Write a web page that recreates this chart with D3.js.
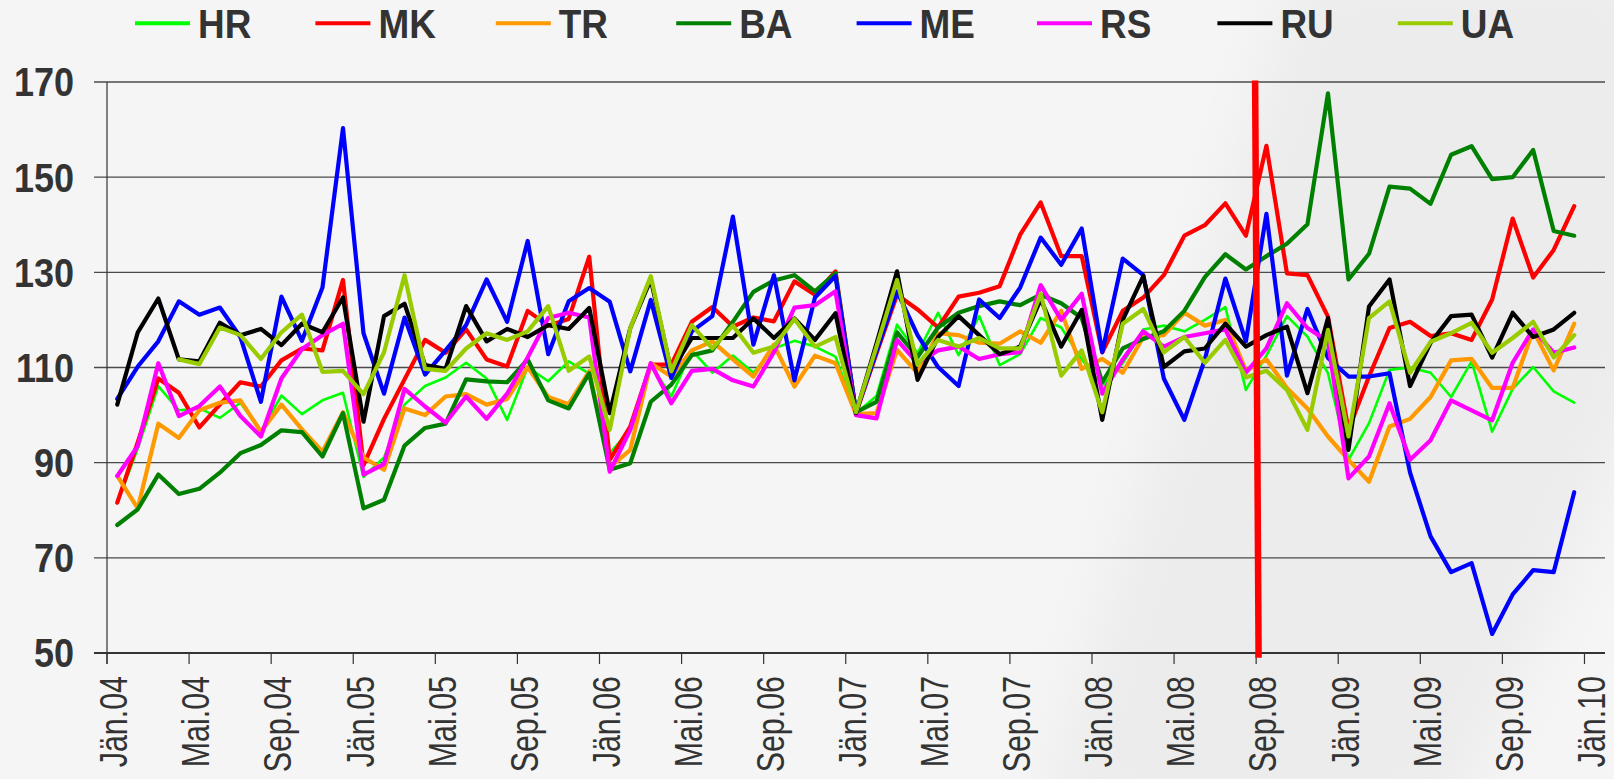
<!DOCTYPE html>
<html>
<head>
<meta charset="utf-8">
<script src="https://cdn.jsdelivr.net/npm/d3@7"></script>
<style>
  body { margin: 0; background: #f4f4f4; }
  svg { display: block; }
</style>
</head>
<body>
<div id="chartContainer"></div>
<script>

// month categories Jan 2004 .. Dec 2009 (index 0..71)
var monthNames = ["Jän", "Feb", "Mär", "Apr", "Mai", "Jun", "Jul", "Aug", "Sep", "Okt", "Nov", "Dez"];
var years = ["04", "05", "06", "07", "08", "09"];
var months = [];
years.forEach(function (yr) {
    monthNames.forEach(function (m) { months.push(m + "." + yr); });
});

var tickLabels = ["Jän.04", "Mai.04", "Sep.04", "Jän.05", "Mai.05", "Sep.05", "Jän.06", "Mai.06",
    "Sep.06", "Jän.07", "Mai.07", "Sep.07", "Jän.08", "Mai.08", "Sep.08", "Jän.09", "Mai.09",
    "Sep.09", "Jän.10"];
var yTicks = [50, 70, 90, 110, 130, 150, 170];

var seriesNames = ["HR", "MK", "TR", "BA", "ME", "RS", "RU", "UA"];
var seriesColors = ["#00ff00", "#ff0000", "#ff9900", "#008000", "#0000ff", "#ff00ff", "#000000", "#99cc00"];

var HR = [81.5, 93, 106.1, 101, 101.4, 99.4, 102.6, 96.6, 104.1, 100.2, 103.1, 104.7,
    87, 91.1, 102.2, 106.1, 107.9, 111, 107.7, 99, 110.1, 107.1, 111.3, 108.7,
    92, 96.9, 110.6, 103.9, 113.6, 108.9, 112.5, 108.9, 114, 115.6, 114.4, 112.3,
    100.4, 104, 119, 113, 121.5, 112.6, 120.8, 110.5, 112.8, 120.4, 118.4, 111.7,
    106.1, 110.9, 118, 118.8, 117.6, 120, 122.7, 105.3, 112.5, 120.8, 116.5, 108.8,
    90.6, 98.3, 109.5, 110, 108.9, 103.8, 111.3, 96.5, 105.5, 110.1, 105, 102.6];
var MK = [81.6, 94.3, 107.7, 104.7, 97.4, 102.2, 106.9, 106, 111.5, 114, 113.6, 128.4,
    89.5, 99.2, 107.5, 115.8, 113.1, 118, 111.7, 110.2, 121.9, 118.8, 120.2, 133.3,
    90.6, 97.6, 110.6, 110.6, 119.6, 122.7, 118.6, 120.5, 119.7, 128.1, 125.3, 130.2,
    100.4, 113, 125.3, 122.2, 118.4, 124.9, 125.7, 127.1, 137.9, 144.7, 133.4, 133.4,
    113.2, 121.9, 124.7, 129.4, 137.7, 139.9, 144.5, 137.7, 156.6, 129.8, 129.4, 120.7,
    96.9, 108.1, 118.3, 119.6, 116.6, 117.2, 115.8, 124.3, 141.3, 128.9, 134.7, 143.9];
var TR = [87.2, 80.4, 98.2, 95.2, 101, 102.6, 103.1, 96.5, 102.2, 97, 92.3, 100.6,
    91.1, 88.5, 101.4, 100, 103.9, 104.4, 102.2, 103.4, 110.1, 103.8, 102.3, 109.2,
    89, 92.7, 110.9, 108.1, 113.6, 115.5, 111.7, 108.1, 114.8, 106, 112.5, 110.9,
    100.2, 100.4, 113.7, 108.8, 117.2, 116.8, 115.2, 115, 117.6, 115.2, 121.9, 109.7,
    111.8, 108.9, 116.4, 116.8, 121.5, 118.8, 120, 109.3, 111.7, 105.7, 101.4, 95.5,
    90.6, 86, 97.6, 99.2, 103.8, 111.5, 111.8, 105.7, 105.7, 117.8, 109.4, 119.2];
var BA = [76.9, 80.2, 87.5, 83.4, 84.5, 87.9, 92, 93.7, 96.8, 96.4, 91.3, 100.4,
    80.4, 82.2, 93.6, 97.3, 98.2, 107.5, 107.1, 106.9, 111.7, 103.1, 101.4, 108.8,
    88.5, 89.9, 102.8, 106.4, 112.6, 113.6, 119.6, 125.9, 128.3, 129.4, 126, 129.8,
    100.6, 102.8, 117.4, 112.2, 118.4, 121.5, 122.9, 123.9, 123.1, 125.3, 123.5, 120.4,
    106.9, 114, 116, 117.6, 121.9, 129, 133.8, 130.6, 133.4, 136, 140.1, 167.6,
    128.5, 133.9, 148, 147.6, 144.4, 154.7, 156.5, 149.6, 150, 155.7, 138.7, 137.7];
var ME = [103.4, 110.2, 115.5, 123.9, 121.1, 122.6, 116.4, 102.8, 124.9, 115.6, 126.8, 160.3,
    117.2, 104.5, 120.5, 108.5, 113.6, 118.9, 128.5, 119.6, 136.6, 112.8, 123.9, 126.7,
    123.8, 109.2, 124.2, 107.8, 117.6, 120.8, 141.7, 114.8, 129.4, 107.3, 124.7, 129.2,
    100.6, 113.4, 126, 116.8, 110.1, 106.1, 124.3, 120.4, 126.8, 137.3, 131.6, 139.2,
    113.2, 132.9, 129.4, 107.7, 99, 111.7, 128.7, 115.5, 142.3, 108.3, 122.3, 112,
    108.1, 108.1, 108.8, 87.9, 74.5, 67, 68.9, 54, 62.3, 67.4, 67, 83.8];
var RS = [87.2, 93.5, 110.9, 99.8, 101.9, 106, 99.8, 95.5, 107.7, 113.9, 116.8, 119.2,
    87.5, 89.7, 105.5, 101.8, 98.4, 103.9, 99.2, 104.5, 112.1, 120.4, 121.5, 120.5,
    88.1, 96.9, 110.9, 102.5, 109.3, 109.7, 107.3, 106, 113.2, 122.6, 123.1, 126,
    100, 99.3, 115.8, 110.9, 113.6, 114.4, 111.8, 112.8, 113.2, 127.3, 120, 125.5,
    104.5, 111.7, 117.6, 114.4, 116.4, 117.2, 118, 108.9, 114, 123.5, 118.3, 115.5,
    86.7, 91.3, 102.5, 90.6, 94.7, 103.1, 101, 98.9, 111, 118, 113.1, 114.2];
var RU = [102.2, 117.4, 124.5, 111.7, 111.3, 119.4, 116.8, 118.1, 114.7, 119.2, 117.4, 124.7,
    98.6, 120.8, 123.4, 110.5, 109.7, 122.9, 115.5, 118.1, 116.4, 118.9, 118.1, 122.5,
    100.4, 118.3, 128.5, 109.2, 116.2, 116.2, 116.2, 120.3, 116.2, 120.3, 115.8, 121.4,
    100.4, 115.1, 130.2, 107.4, 116.4, 120.8, 116.8, 112.8, 114.4, 124.3, 114.4, 122.1,
    99, 120, 129.2, 110.1, 113.4, 114, 119.2, 114.4, 116.8, 118.6, 104.6, 120.4,
    92.7, 122.8, 128.5, 106.1, 115.2, 120.8, 121.1, 112.1, 121.5, 116.4, 118, 121.5];
var UA = [null, null, null, 111.7, 110.7, 118.4, 116.8, 111.8, 117.4, 121.1, 109.1, 109.3,
    104.4, 113.2, 129.4, 109.7, 109.3, 114, 117.2, 115.8, 117.6, 122.9, 109.3, 112.3,
    96.9, 118.3, 129.2, 109.2, 118.9, 114, 118.8, 113.1, 114.4, 120.2, 114.4, 116.4,
    100.6, 114.4, 128.4, 110.6, 115.8, 114.4, 116.2, 114, 114, 125.5, 108.3, 113.6,
    100.6, 119.2, 122.3, 113.2, 116.4, 111, 115.8, 107.9, 109.3, 105.3, 96.9, 117.9,
    95.5, 120.4, 123.9, 108.9, 115.4, 117.2, 119.4, 113.1, 116.2, 119.6, 112.1, 116.8];

var seriesValues = [HR, MK, TR, BA, ME, RS, RU, UA];

// red marker between Aug.08 and Sep.08 (month index, value)
var markerStart = [55.45, 170.3];
var markerEnd = [55.62, 49];

var width = 1614, height = 779;
var plotLeft = 107, plotRight = 1605, plotTop = 82, plotBottom = 653;
var font = "'Liberation Sans', Arial, sans-serif";

var svg = d3.select("#chartContainer")
    .append("svg")
    .attr("width", width)
    .attr("height", height);

// background with soft darker band on the right
var defs = svg.append("defs");
defs.append("filter")
    .attr("id", "soft")
    .attr("x", "-50%").attr("y", "-50%").attr("width", "200%").attr("height", "200%")
    .append("feGaussianBlur")
    .attr("stdDeviation", 30);

svg.append("rect")
    .attr("width", width)
    .attr("height", height)
    .style("fill", "#f5f5f5");

svg.append("polygon")
    .attr("points", "1040,820 1455,820 1660,360 1660,-40 1300,-40")
    .attr("filter", "url(#soft)")
    .style("fill", "#ececec");

var x = d3.scaleLinear().domain([-0.5, 72.5]).range([plotLeft, plotRight]);
var y = d3.scaleLinear().domain([50, 170]).range([plotBottom, plotTop]);

// horizontal grid lines (with the tick stubs left of the axis)
svg.selectAll(".grid")
    .data(yTicks.filter(function (d) { return d !== 50; }))
    .enter()
    .append("line")
    .attr("class", "grid")
    .attr("x1", plotLeft - 13)
    .attr("x2", plotRight)
    .attr("y1", function (d) { return y(d); })
    .attr("y2", function (d) { return y(d); })
    .style("stroke", "#4a4a4a")
    .style("stroke-width", 1.3);

// y axis labels
svg.selectAll(".ylab")
    .data(yTicks)
    .enter()
    .append("text")
    .attr("class", "ylab")
    .attr("transform", function (d) { return "translate(74," + y(d) + ") scale(0.9,1)"; })
    .attr("dy", "0.36em")
    .style("text-anchor", "end")
    .style("font-family", font)
    .style("font-weight", "bold")
    .style("font-size", "40px")
    .style("fill", "#333")
    .text(function (d) { return d; });

// x axis ticks and labels
var tickPos = tickLabels.map(function (d, i) { return -0.5 + 4 * i; });

svg.selectAll(".xtick")
    .data(tickPos)
    .enter()
    .append("line")
    .attr("class", "xtick")
    .attr("x1", function (d) { return x(d); })
    .attr("x2", function (d) { return x(d); })
    .attr("y1", plotBottom)
    .attr("y2", plotBottom + 11)
    .style("stroke", "#333")
    .style("stroke-width", 1.2);

svg.selectAll(".xlab")
    .data(tickLabels)
    .enter()
    .append("text")
    .attr("class", "xlab")
    .attr("transform", function (d, i) {
        return "translate(" + (x(tickPos[i]) + 7) + "," + (plotBottom + 23) + ") rotate(-90) scale(0.8,1)";
    })
    .attr("dy", "0.35em")
    .style("text-anchor", "end")
    .style("font-family", font)
    .style("font-size", "38px")
    .style("fill", "#333")
    .text(function (d) { return d; });

// axes lines
svg.append("line")
    .attr("x1", plotLeft - 13).attr("x2", plotRight)
    .attr("y1", plotBottom).attr("y2", plotBottom)
    .style("stroke", "#333")
    .style("stroke-width", 2);

svg.append("line")
    .attr("x1", plotLeft).attr("x2", plotLeft)
    .attr("y1", plotTop).attr("y2", plotBottom + 11)
    .style("stroke", "#333")
    .style("stroke-width", 1.2);

// data lines
var line = d3.line()
    .defined(function (d) { return d !== null; })
    .x(function (d, i) { return x(i); })
    .y(function (d) { return y(d); });

svg.selectAll(".series")
    .data(seriesValues)
    .enter()
    .append("path")
    .attr("class", "series")
    .attr("d", line)
    .style("fill", "none")
    .style("stroke", function (d, i) { return seriesColors[i]; })
    .style("stroke-width", function (d, i) { return seriesNames[i] === "HR" ? 2.6 : 4.2; })
    .style("stroke-linejoin", "round")
    .style("stroke-linecap", "round");

// vertical marker line
svg.append("line")
    .attr("x1", x(markerStart[0])).attr("y1", y(markerStart[1]))
    .attr("x2", x(markerEnd[0])).attr("y2", y(markerEnd[1]))
    .style("stroke", "#ff0000")
    .style("stroke-width", 6.5);

// legend
var legend = svg.selectAll(".legend")
    .data(seriesNames)
    .enter()
    .append("g")
    .attr("class", "legend")
    .attr("transform", function (d, i) { return "translate(" + (135 + i * 180.4) + ",0)"; });

legend.append("line")
    .attr("x1", 0).attr("x2", 55)
    .attr("y1", 23.3).attr("y2", 23.3)
    .style("stroke", function (d, i) { return seriesColors[i]; })
    .style("stroke-width", 4);

legend.append("text")
    .attr("transform", "translate(63,38.3) scale(0.9,1)")
    .style("font-family", font)
    .style("font-weight", "bold")
    .style("font-size", "41px")
    .style("fill", "#333")
    .text(function (d) { return d; });

</script>
</body>
</html>
